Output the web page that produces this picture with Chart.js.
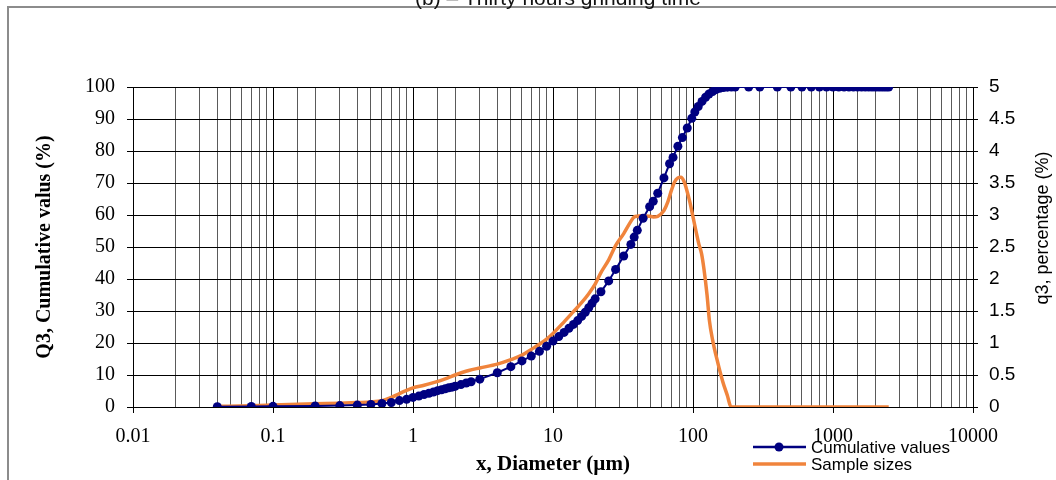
<!DOCTYPE html>
<html><head><meta charset="utf-8">
<script src="https://cdn.jsdelivr.net/npm/chart.js@4/dist/chart.umd.min.js"></script>
<style>
html,body{margin:0;padding:0;background:#fff;overflow:hidden;}
#wrap{position:relative;width:1056px;height:480px;overflow:hidden;}
#frame{position:absolute;left:7px;top:6px;width:1200px;height:600px;border-left:2px solid #8c8c8c;border-top:2px solid #8c8c8c;}
canvas{position:absolute;left:0;top:0;}
</style></head><body>
<div id="wrap"><div id="frame"></div><canvas id="c" width="1056" height="480"></canvas></div>
<script>
const chartTitle = '(b) – Thirty hours grinding time';
const xTitle = 'x, Diameter (µm)';
const yTitle = 'Q3, Cumulative valus (%)';
const y2Title = 'q3, percentage (%)';
const seriesNames = ['Cumulative values', 'Sample sizes'];
const xTickValues = [0.01, 0.1, 1, 10, 100, 1000, 10000];

const cumX = [0.04, 0.07, 0.1, 0.2, 0.3, 0.4, 0.5, 0.6, 0.7, 0.8, 0.9, 1.0, 1.1, 1.2, 1.3, 1.4, 1.5, 1.6, 1.7, 1.8, 1.9, 2.0, 2.2, 2.4, 2.6, 3, 4, 5, 6, 7, 8, 9, 10, 11, 12, 13, 14, 15, 16, 17, 18, 19, 20, 22, 25, 28, 32, 36, 38, 40, 44, 49, 52, 56, 62, 68, 72, 78, 84, 91, 98, 103, 109, 116, 123, 130, 138, 146, 155, 165, 176, 188, 200, 250, 300, 400, 500, 600, 700, 800, 900, 1000, 1100, 1200, 1300, 1400, 1500, 1600, 1700, 1800, 1900, 2000, 2100, 2200, 2300, 2400, 2500];
const cumQ = [0.1, 0.15, 0.2, 0.3, 0.45, 0.6, 0.8, 1.1, 1.4, 2.0, 2.4, 3.0, 3.4, 3.9, 4.3, 4.7, 5.1, 5.4, 5.7, 6.0, 6.2, 6.5, 7.0, 7.5, 7.9, 8.7, 10.7, 12.6, 14.4, 15.9, 17.4, 19.0, 20.6, 22.0, 23.3, 24.6, 25.8, 27.0, 28.3, 29.6, 31.0, 32.4, 33.8, 36.0, 39.4, 43.0, 47.2, 50.8, 53.1, 55.2, 59.0, 62.6, 64.3, 66.8, 71.6, 76.0, 78.0, 81.5, 84.2, 87.2, 90.2, 92.2, 93.9, 95.5, 96.8, 97.8, 98.6, 99.2, 99.6, 99.85, 99.95, 100, 100, 100, 100, 100, 100, 100, 100, 100, 100, 100, 100, 100, 100, 100, 100, 100, 100, 100, 100, 100, 100, 100, 100, 100, 100];

const sampleX = [0.04, 0.07, 0.1, 0.2, 0.3, 0.4, 0.5, 0.6, 0.7, 0.8, 0.9, 1, 1.2, 1.4, 1.7, 2, 2.5, 3, 4, 5, 6, 7, 8, 9, 10, 12, 14, 16, 18, 20, 22, 25, 28, 32, 36, 38, 40, 44, 49, 52, 56, 62, 66, 70, 74, 78, 82, 86, 90, 95, 100, 105, 110, 115, 120, 126, 131, 138, 150, 163, 176, 187, 250, 500, 1000, 2500];
const sampleQ = [0.01, 0.02, 0.03, 0.05, 0.06, 0.07, 0.08, 0.1, 0.15, 0.21, 0.26, 0.3, 0.34, 0.38, 0.44, 0.5, 0.57, 0.61, 0.67, 0.74, 0.81, 0.9, 0.98, 1.06, 1.15, 1.33, 1.49, 1.63, 1.77, 1.92, 2.1, 2.3, 2.52, 2.71, 2.9, 2.97, 2.98, 2.99, 2.98, 2.97, 2.98, 3.07, 3.2, 3.38, 3.52, 3.58, 3.59, 3.53, 3.4, 3.2, 2.97, 2.75, 2.55, 2.4, 2.14, 1.75, 1.35, 1.05, 0.7, 0.4, 0.18, 0, 0, 0, 0, 0];

const navy = '#000080';
const orange = '#f0843c';
const serif = '"Liberation Serif", "Times New Roman", serif';
const sans = '"Liberation Sans", Arial, sans-serif';

function isDecade(v) {
  const l = Math.log10(v);
  return Math.abs(l - Math.round(l)) < 1e-6;
}

const extras = {
  id: 'extras',
  afterDraw(chart) {
    const ctx = chart.ctx;
    ctx.save();
    ctx.translate(1043, 228);
    ctx.rotate(-Math.PI / 2);
    ctx.font = '18px ' + sans;
    ctx.fillStyle = '#000';
    ctx.textAlign = 'center';
    ctx.textBaseline = 'middle';
    ctx.fillText(y2Title, 0, 0);
    ctx.restore();

    ctx.save();
    const rows = [
      {y: 447, color: navy, w: 2.5, dot: true, label: seriesNames[0]},
      {y: 464, color: orange, w: 3.5, dot: false, label: seriesNames[1]}
    ];
    rows.forEach(r => {
      ctx.strokeStyle = r.color;
      ctx.lineWidth = r.w;
      ctx.beginPath();
      ctx.moveTo(753, r.y);
      ctx.lineTo(806, r.y);
      ctx.stroke();
      if (r.dot) {
        ctx.fillStyle = r.color;
        ctx.beginPath();
        ctx.arc(779, r.y, 4.5, 0, Math.PI * 2);
        ctx.fill();
      }
      ctx.fillStyle = '#000';
      ctx.font = '17px ' + sans;
      ctx.textAlign = 'left';
      ctx.textBaseline = 'middle';
      ctx.fillText(r.label, 811, r.y + 1);
    });
    ctx.restore();
  }
};

new Chart(document.getElementById('c'), {
  type: 'scatter',
  data: {
    datasets: [
      {
        label: seriesNames[0],
        data: cumX.map((x, i) => ({x: x, y: cumQ[i]})),
        yAxisID: 'y',
        showLine: true,
        borderColor: navy,
        backgroundColor: navy,
        borderWidth: 2,
        pointRadius: 4.5,
        pointBorderWidth: 0,
        pointBackgroundColor: navy,
        order: 0
      },
      {
        label: seriesNames[1],
        data: sampleX.map((x, i) => ({x: x, y: sampleQ[i]})),
        yAxisID: 'y2',
        showLine: true,
        borderColor: orange,
        backgroundColor: orange,
        borderWidth: 3.5,
        pointRadius: 0,
        cubicInterpolationMode: 'monotone',
        order: 1
      }
    ]
  },
  options: {
    responsive: false,
    animation: false,
    devicePixelRatio: 1,
    layout: {padding: {left: 60, right: 0, top: 0, bottom: 0}},
    plugins: {
      legend: {display: false},
      tooltip: {enabled: false},
      title: {
        display: true,
        text: chartTitle,
        color: '#111',
        font: {family: sans, size: 21, weight: 'normal'},
        padding: {top: -13, bottom: 74.8}
      }
    },
    scales: {
      x: {
        type: 'logarithmic',
        position: 'bottom',
        min: 0.01,
        max: 10000,
        afterFit: (s) => { s.height = 73; },
        border: {color: '#000', width: 1},
        grid: {
          color: (c) => (c.tick && isDecade(c.tick.value)) ? '#000' : '#5a5a5a',
          tickColor: (c) => (c.tick && isDecade(c.tick.value)) ? '#000' : 'rgba(0,0,0,0)',
          tickLength: 6,
          lineWidth: 1
        },
        ticks: {
          autoSkip: false,
          maxRotation: 0,
          padding: 12,
          color: '#000',
          font: {family: serif, size: 20},
          callback: (v) => isDecade(v) && xTickValues.some(t => Math.abs(Math.log10(t) - Math.log10(v)) < 1e-6) ? String(Number(Number(v).toPrecision(6))) : ''
        },
        title: {
          display: true,
          text: xTitle,
          color: '#000',
          font: {family: serif, size: 21, weight: 'bold'},
          padding: {top: 0, bottom: 3}
        }
      },
      y: {
        type: 'linear',
        position: 'left',
        min: 0,
        max: 100,
        afterFit: (s) => { s.width = 73; },
        border: {color: '#000', width: 1},
        grid: {color: '#000', tickColor: '#000', tickLength: 6, lineWidth: 1},
        ticks: {stepSize: 10, padding: 12, color: '#000', font: {family: serif, size: 20}},
        title: {
          display: true,
          text: yTitle,
          color: '#000',
          font: {family: serif, size: 20, weight: 'bold'},
          padding: {top: -27, bottom: 0}
        }
      },
      y2: {
        type: 'linear',
        position: 'right',
        min: 0,
        max: 5,
        afterFit: (s) => { s.width = 83; },
        border: {color: '#000', width: 1},
        grid: {drawOnChartArea: false, color: '#000', tickColor: '#000', tickLength: 5},
        ticks: {
          stepSize: 0.5, padding: 11, color: '#000', font: {family: sans, size: 19},
          callback: (v) => String(Math.round(v * 10) / 10)
        }
      }
    }
  },
  plugins: [extras]
});
</script>
</body></html>
